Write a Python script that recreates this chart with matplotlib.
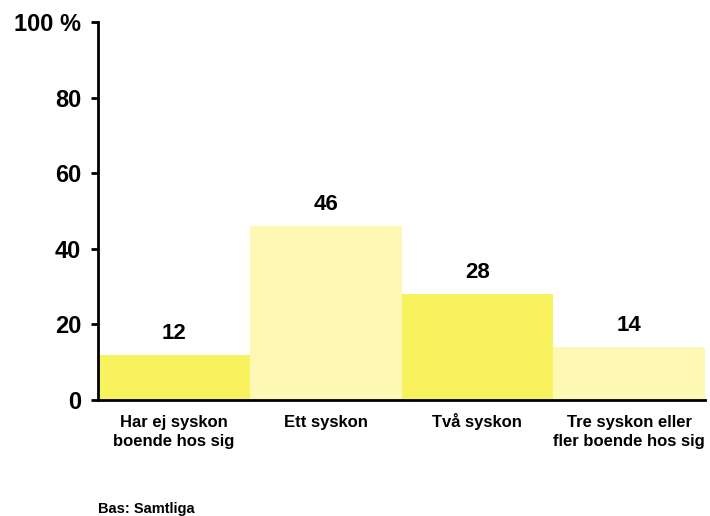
import matplotlib.pyplot as plt

categories = ["Har ej syskon\nboende hos sig", "Ett syskon", "Två syskon", "Tre syskon eller\nfler boende hos sig"]
values = [12, 46, 28, 14]
colors = ["#f8f25e", "#fdf8b3", "#f8f25e", "#fdf8b3"]
yticks = [0, 20, 40, 60, 80, 100]
ytick_labels = ["0", "20", "40", "60", "80", "100 %"]

plt.rcParams['font.family'] = ['Liberation Sans', 'DejaVu Sans']
plt.rcParams['font.weight'] = 'bold'

fig = plt.figure(figsize=(7.1, 5.16), dpi=100)
ax = fig.add_axes([0.138, 0.225, 0.855, 0.732])

x = list(range(len(values)))
ax.bar(x, values, width=1.0, color=colors, zorder=2)
ax.set_xlim(-0.5, len(values) - 0.5)
ax.set_ylim(0, 100)

for xi, v in zip(x, values):
    ax.annotate(str(v), (xi, v), xytext=(0, 15.5), textcoords='offset points',
                ha='center', va='center', fontsize=16, fontweight='bold')

ax.set_yticks(yticks)
ax.set_yticklabels(ytick_labels, fontsize=17, fontweight='bold')
ax.set_xticks(x)
# pad single-line labels to two lines so every first line sits on the same baseline
padded = [c if "\n" in c else c + "\n " for c in categories]
ax.set_xticklabels(padded, fontsize=12, fontweight='bold', linespacing=1.3)
for lab in ax.get_xticklabels():
    lab.set_verticalalignment('baseline')
ax.tick_params(axis='x', length=0, pad=33)
ax.tick_params(axis='y', length=5, width=2, pad=7)

for s in ['top', 'right']:
    ax.spines[s].set_visible(False)
for s in ['left', 'bottom']:
    ax.spines[s].set_linewidth(2)
ax.spines['bottom'].set_zorder(3)

fig.text(0.138, 0.006, "Bas: Samtliga", fontsize=10.5, fontweight='bold', ha='left', va='baseline')

fig.savefig("out.png", dpi=100)
